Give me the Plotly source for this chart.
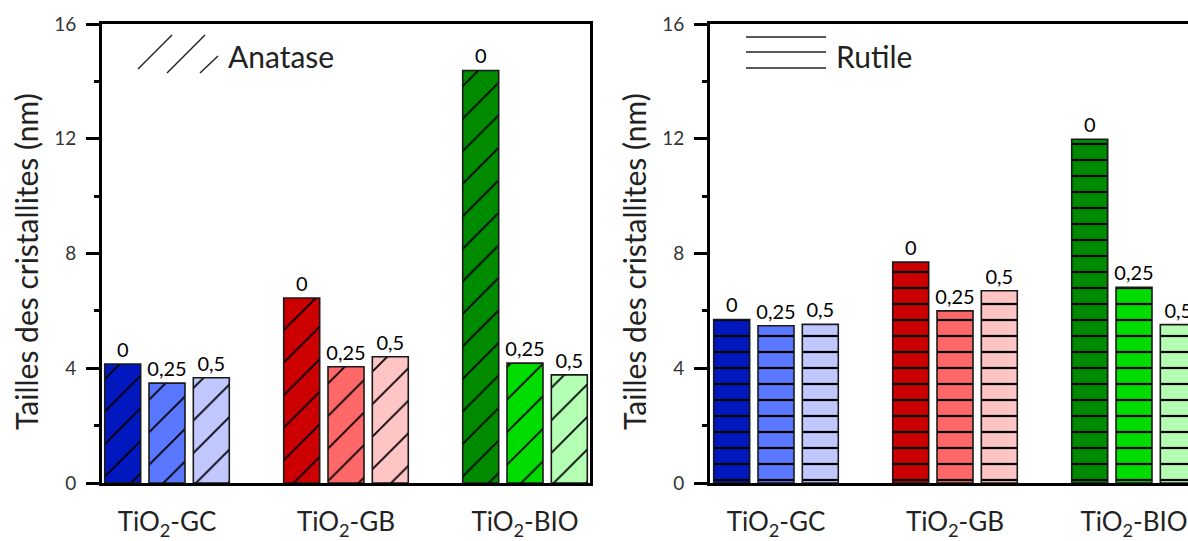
import plotly.graph_objects as go
from plotly.subplots import make_subplots

# ---------------- data ----------------
groups = ["TiO<sub>2</sub>-GC", "TiO<sub>2</sub>-GB", "TiO<sub>2</sub>-BIO"]
group_pos = [1, 2, 3]
concentrations = ["0", "0,25", "0,5"]

anatase_0 = [4.15, 6.45, 14.38]
anatase_025 = [3.48, 4.05, 4.18]
anatase_05 = [3.67, 4.40, 3.77]

rutile_0 = [5.70, 7.70, 11.98]
rutile_025 = [5.48, 6.00, 6.82]
rutile_05 = [5.53, 6.70, 5.52]

colors_0 = ["#0018be", "#cc0000", "#008a00"]
colors_025 = ["#5a78ff", "#ff6868", "#00dc00"]
colors_05 = ["#c0c8ff", "#ffc4c4", "#b4ffb4"]

y_ticks = [0, 4, 8, 12, 16]
y_minor = [2, 6, 10, 14]
y_title = "Tailles des cristallites (nm)"

W, H = 1188, 541
FONT = "Lato"
INK = "#222222"
BAR_W = 0.201
SLOT = 0.2475


def px(x):
    return x / W


def py(y):
    return 1 - y / H


fig = make_subplots(rows=1, cols=2)

panels = [
    (1, [anatase_0, anatase_025, anatase_05], dict(shape="/", size=23, solidity=0.08)),
    (2, [rutile_0, rutile_025, rutile_05], dict(shape="-", size=16, solidity=0.14)),
]
color_sets = [colors_0, colors_025, colors_05]

for col, series, pat in panels:
    for k, (vals, cols, conc) in enumerate(zip(series, color_sets, concentrations)):
        for g, (xpos, val, c) in enumerate(zip(group_pos, vals, cols)):
            fig.add_trace(
                go.Bar(
                    x=[xpos],
                    y=[val],
                    offset=(k - 1) * SLOT - BAR_W / 2,
                    width=BAR_W,
                    text=[conc],
                    textposition="outside",
                    constraintext="none",
                    textfont=dict(family=FONT, size=20, color="black"),
                    marker=dict(
                        color=c,
                        line=dict(color="#1a1a1a", width=1.6),
                        pattern=dict(
                            shape=pat["shape"],
                            size=pat["size"],
                            solidity=pat["solidity"],
                            fillmode="overlay",
                            bgcolor=c,
                            fgcolor="black",
                            fgopacity=1,
                        ),
                    ),
                    showlegend=False,
                    hoverinfo="skip",
                ),
                row=1,
                col=col,
            )

fig.update_layout(
    width=W,
    height=H,
    autosize=False,
    margin=dict(l=0, r=0, t=0, b=0, pad=0),
    paper_bgcolor="white",
    plot_bgcolor="white",
    barmode="overlay",
    font=dict(family=FONT, color=INK),
)

ydom = [py(483), py(24)]
fig.update_layout(
    xaxis=dict(domain=[px(102), px(590)], range=[1 - 65 / 179, 1 + (590 - 167) / 179]),
    xaxis2=dict(domain=[px(710), 1.0], range=[1 - 66 / 179, 1 + (W - 776) / 179]),
    yaxis=dict(domain=ydom),
    yaxis2=dict(domain=ydom),
)

for i, mirror_y in ((1, True), (2, False)):
    fig.update_xaxes(
        tickmode="array",
        tickvals=group_pos,
        ticktext=groups,
        ticks="",
        showgrid=False,
        zeroline=False,
        showline=True,
        linecolor="black",
        linewidth=3,
        mirror=True,
        automargin=False,
        ticklabelstandoff=14,
        tickfont=dict(family=FONT, size=26, color=INK),
        row=1,
        col=i,
    )
    fig.update_yaxes(
        range=[0, 16],
        tickmode="array",
        tickvals=y_ticks,
        ticks="outside",
        ticklen=13,
        tickwidth=3,
        tickcolor="black",
        minor=dict(tickvals=y_minor, ticks="outside", ticklen=5, tickwidth=3, tickcolor="black"),
        showgrid=False,
        zeroline=False,
        showline=True,
        linecolor="black",
        linewidth=3,
        mirror=mirror_y,
        automargin=False,
        ticklabelstandoff=6,
        tickfont=dict(family=FONT, size=19, color="#333333"),
        row=1,
        col=i,
    )

# y titles
for xc in (26, 634):
    fig.add_annotation(
        text=y_title,
        xref="paper",
        yref="paper",
        x=px(xc),
        y=py(262),
        xanchor="center",
        yanchor="middle",
        textangle=-90,
        showarrow=False,
        font=dict(family=FONT, size=30, color=INK),
    )

# legend-like keys
line_style = dict(color="#222222", width=1.4)
for (x0, y0, x1, y1) in [(138, 69, 172, 35), (167, 73, 205, 35), (200, 73, 218, 56)]:
    fig.add_shape(type="line", xref="paper", yref="paper",
                  x0=px(x0), y0=py(y0), x1=px(x1), y1=py(y1), line=line_style)
fig.add_annotation(text="Anatase", xref="paper", yref="paper", x=px(226), y=py(56),
                   xanchor="left", yanchor="middle", showarrow=False,
                   font=dict(family=FONT, size=30, color=INK))

for yy in (37, 52, 68):
    fig.add_shape(type="line", xref="paper", yref="paper",
                  x0=px(746), y0=py(yy), x1=px(826), y1=py(yy), line=line_style)
fig.add_annotation(text="Rutile", xref="paper", yref="paper", x=px(834), y=py(56),
                   xanchor="left", yanchor="middle", showarrow=False,
                   font=dict(family=FONT, size=30, color=INK))

fig.write_html(
    "out.html",
    config={"displayModeBar": False, "responsive": False},
    post_script="document.body.style.margin='0';document.body.style.overflow='hidden';",
)
